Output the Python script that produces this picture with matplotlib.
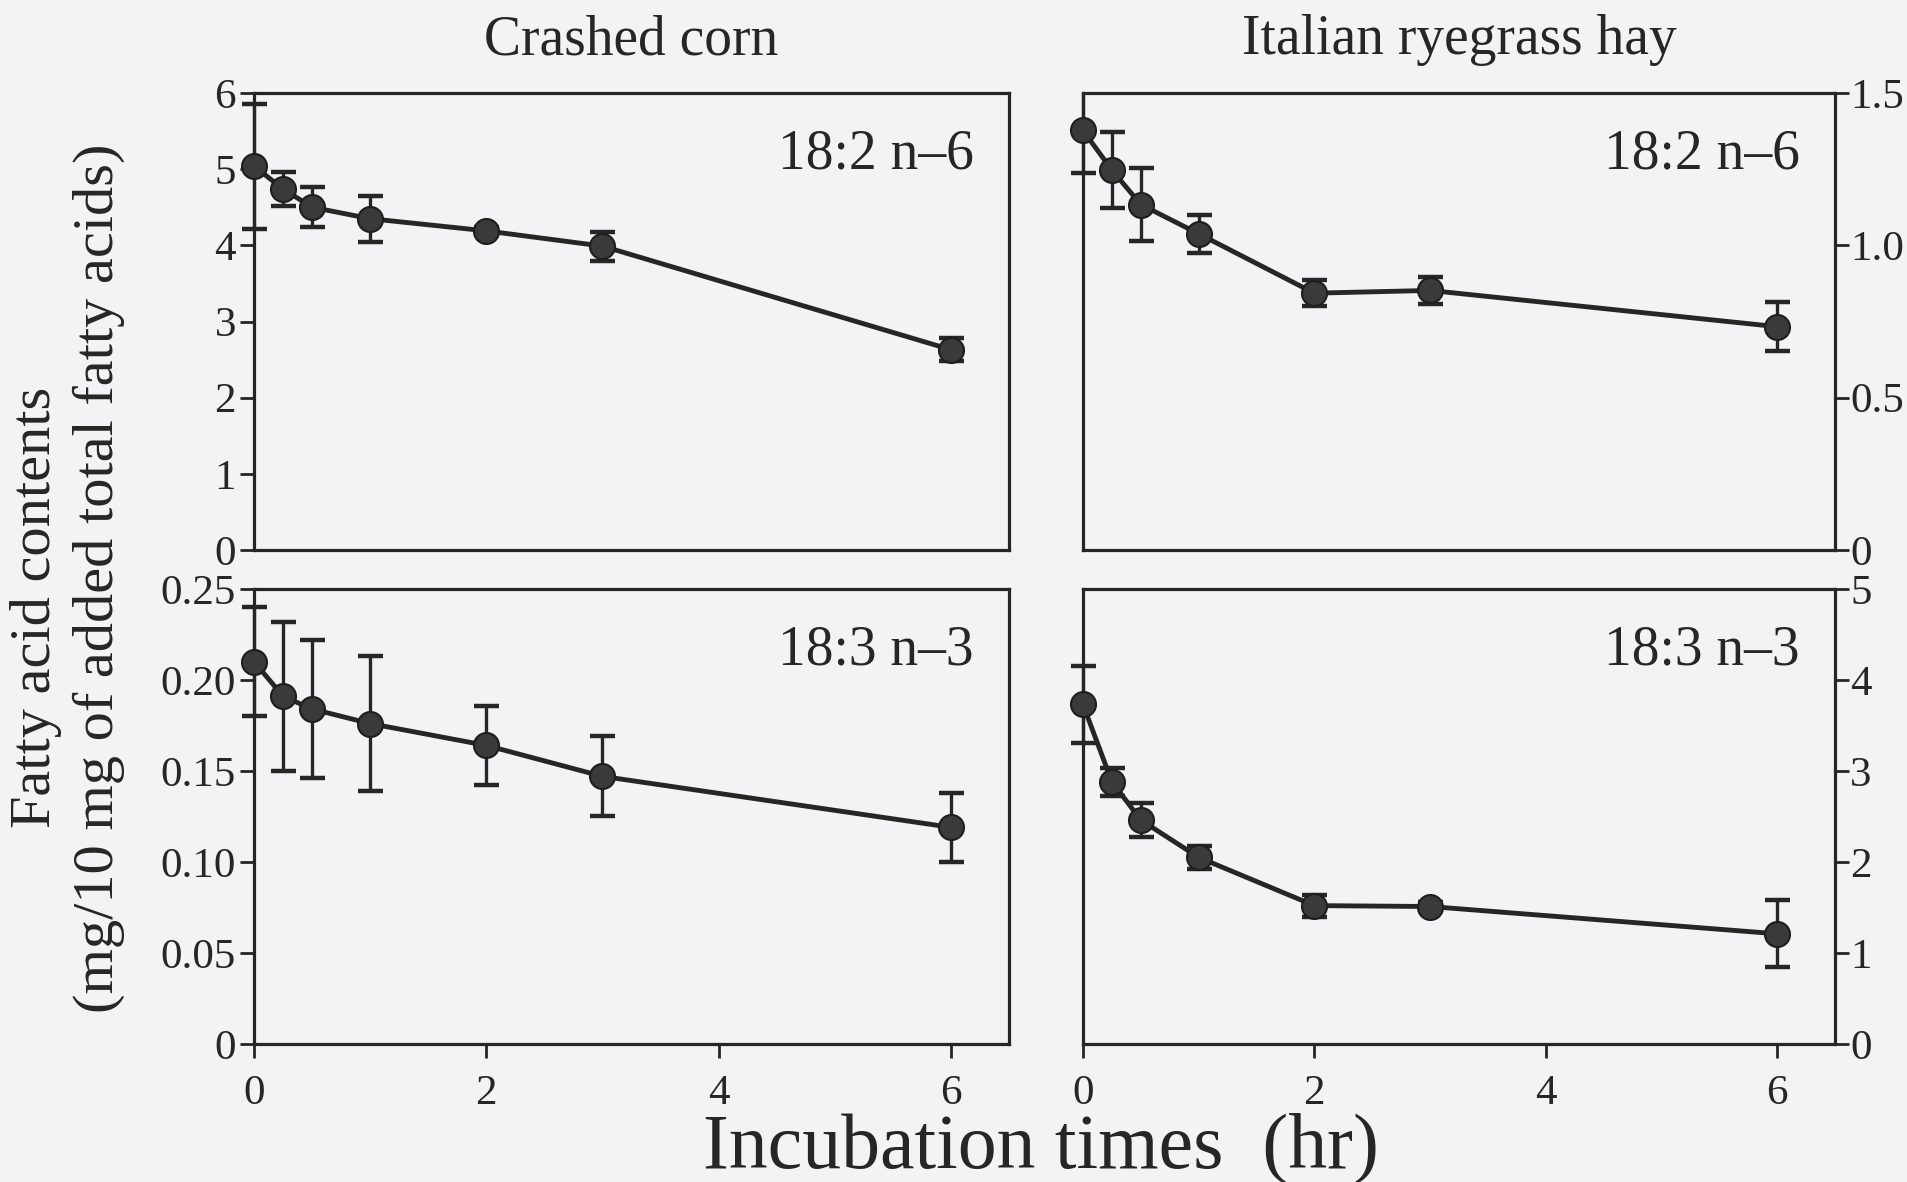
import matplotlib
matplotlib.use("Agg")
import matplotlib.pyplot as plt
from matplotlib.transforms import Bbox, TransformedBbox

plt.rcParams['font.family'] = ['Liberation Serif', 'DejaVu Serif']

# incubation times (hr)
hours = [0, 0.25, 0.5, 1, 2, 3, 6]

# crashed corn
corn_182 = [5.04, 4.74, 4.50, 4.35, 4.19, 3.99, 2.63]
corn_182_err = [0.82, 0.22, 0.26, 0.30, 0.05, 0.19, 0.15]
corn_183 = [0.210, 0.191, 0.184, 0.176, 0.164, 0.147, 0.119]
corn_183_err = [0.030, 0.041, 0.038, 0.037, 0.0215, 0.022, 0.019]

# italian ryegrass hay
hay_182 = [1.377, 1.247, 1.134, 1.038, 0.843, 0.852, 0.733]
hay_182_err = [0.14, 0.124, 0.12, 0.063, 0.043, 0.044, 0.08]
hay_183 = [3.73, 2.88, 2.46, 2.05, 1.52, 1.51, 1.21]
hay_183_err = [0.42, 0.156, 0.19, 0.13, 0.12, 0.05, 0.37]

col_titles = ["Crashed corn", "Italian ryegrass hay"]
acid_names = ["18:2 n\u20136", "18:3 n\u20133"]

corn_182_ticks = [0, 1, 2, 3, 4, 5, 6]
corn_183_ticks = [0, 0.05, 0.10, 0.15, 0.20, 0.25]
hay_182_ticks = [0, 0.5, 1.0, 1.5]
hay_183_ticks = [0, 1, 2, 3, 4, 5]
x_ticks = [0, 2, 4, 6]

paper = '#f3f3f5'
ink = '#262626'

fig = plt.figure(figsize=(19.07, 11.82), dpi=100, facecolor=paper)

left_x, left_w = 0.1332, 0.3959
right_x, right_w = 0.5679, 0.3943
top_y, top_h = 0.5347, 0.3866
bot_y, bot_h = 0.1168, 0.3850

ax_tl = fig.add_axes([left_x, top_y, left_w, top_h])
ax_tr = fig.add_axes([right_x, top_y, right_w, top_h])
ax_bl = fig.add_axes([left_x, bot_y, left_w, bot_h])
ax_br = fig.add_axes([right_x, bot_y, right_w, bot_h])

panels = [
    (ax_tl, corn_182, corn_182_err, (0, 6), corn_182_ticks, [str(t) for t in corn_182_ticks], 'left', acid_names[0]),
    (ax_tr, hay_182, hay_182_err, (0, 1.5), hay_182_ticks, ['0', '0.5', '1.0', '1.5'], 'right', acid_names[0]),
    (ax_bl, corn_183, corn_183_err, (0, 0.25), corn_183_ticks, ['0', '0.05', '0.10', '0.15', '0.20', '0.25'], 'left', acid_names[1]),
    (ax_br, hay_183, hay_183_err, (0, 5), hay_183_ticks, [str(t) for t in hay_183_ticks], 'right', acid_names[1]),
]

for ax, vals, errs, ylim, yt, ytl, side, name in panels:
    ax.set_facecolor(paper)
    eb = ax.errorbar(hours, vals, yerr=errs, fmt='none', ecolor=ink, elinewidth=2.4,
                     capsize=9, capthick=3.2, zorder=2)
    # bars at t=0 sit on the spine: widen the clip box sideways only
    wide = TransformedBbox(Bbox([[-0.05, 0], [1.05, 1]]), ax.transAxes)
    for art in eb.lines[1] + eb.lines[2]:
        art.set_clip_box(wide)
    ax.plot(hours, vals, '-o', color=ink, lw=3.5, ms=18,
            mfc='#3a3a3a', mec='#1e1e1e', mew=1.5, zorder=3, clip_on=False)
    ax.set_xlim(0, 6.5)
    ax.set_ylim(*ylim)
    for s in ax.spines.values():
        s.set_linewidth(2.3)
        s.set_color(ink)
    ax.set_yticks(yt)
    ax.set_yticklabels(ytl)
    if side == 'left':
        ax.tick_params(axis='y', left=True, right=False, labelleft=True, labelright=False,
                       direction='out', length=10, width=2, pad=3, labelsize=31, colors=ink)
    else:
        ax.tick_params(axis='y', left=False, right=True, labelleft=False, labelright=True,
                       direction='out', length=10, width=2, pad=1, labelsize=31, colors=ink)
    ax.text(0.953, 0.865, name, transform=ax.transAxes, ha='right', va='center',
            fontsize=40, color=ink)

for ax in (ax_tl, ax_tr):
    ax.set_xticks([])
for ax in (ax_bl, ax_br):
    ax.set_xticks(x_ticks)
    ax.tick_params(axis='x', direction='out', length=10, width=2, pad=12,
                   labelsize=31, colors=ink)

ax_tl.set_title(col_titles[0], fontsize=40, pad=28, color=ink)
ax_tr.set_title(col_titles[1], fontsize=40, pad=28, color=ink)

fig.text(0.019, 0.486, "Fatty acid contents", rotation=90, ha='center', va='center',
         fontsize=42, color=ink)
fig.text(0.052, 0.511, "(mg/10 mg of added total fatty acids)", rotation=90,
         ha='center', va='center', fontsize=42, color=ink)
fig.text(0.546, 0.028, "Incubation times  (hr)", ha='center', va='center',
         fontsize=56, color=ink)

fig.savefig("out.png", dpi=100, facecolor=paper)
